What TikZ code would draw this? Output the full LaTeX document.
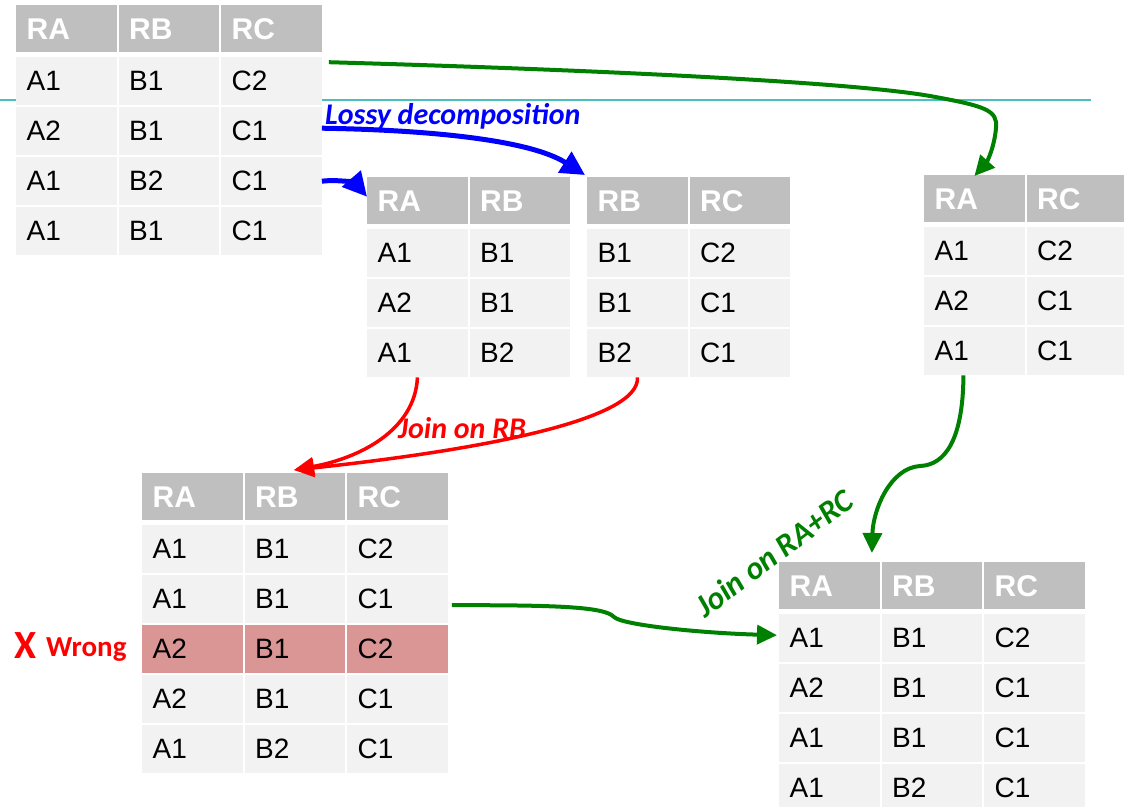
\documentclass[tikz,border=0pt]{standalone}
\usepackage{fontspec}
\setmainfont{Liberation Sans}
\newfontfamily\labfont{Carlito}
\usetikzlibrary{arrows.meta}
\definecolor{hdrgray}{RGB}{191,191,191}
\definecolor{rowgray}{RGB}{242,242,242}
\definecolor{wrongred}{RGB}{218,150,148}
\definecolor{tealrule}{RGB}{75,190,190}
\definecolor{dgreen}{RGB}{0,128,0}
\definecolor{pblue}{RGB}{0,0,255}
\definecolor{pred}{RGB}{255,0,0}
\tikzset{
  tcell/.style={anchor=north west, inner xsep=10.5pt, inner ysep=0pt, text width=79.5pt,
    align=left, minimum height=48pt, fill=rowgray, text=black,
    font=\fontsize{28}{28}\selectfont},
  thdr/.style={tcell, minimum height=47pt, fill=hdrgray, text=white,
    font=\bfseries\fontsize{30}{30}\selectfont},
  lab/.style={inner sep=0pt, font=\labfont\bfseries\itshape\fontsize{30}{30}\selectfont},
  bluearrow/.style={draw=pblue, line width=5pt, -{Triangle[length=24pt,width=24pt]}},
  redarrow/.style={draw=pred, line width=3.5pt, -{Triangle[length=20pt,width=18pt]}},
  greenarrow/.style={draw=dgreen, line width=4pt, -{Triangle[length=20pt,width=19pt]}},
  rule/.style={draw=tealrule, line width=1.8pt},
}
\newcommand\dbtable[6]{%
  \foreach \h [count=\c] in {#4}{%
    \node[thdr] (#1-h-\c) at ({#2+(\c-1)*102.5},{#3}) {\h};
  }%
  \foreach \row [count=\r] in {#5}{%
    \ifnum\r=#6\relax\def\cellcol{wrongred}\else\def\cellcol{rowgray}\fi
    \foreach \v [count=\c] in \row{%
      \node[tcell, fill=\cellcol] (#1-\r-\c) at ({#2+(\c-1)*102.5},{#3+52+(\r-1)*50}) {\v};
    }%
  }%
}
\begin{document}
\begin{tikzpicture}[x=1pt,y=-1pt]
\useasboundingbox (0,0) rectangle (1124,806);
\clip (0,0) rectangle (1124,806);
% tables
\dbtable{t1}{16}{5}{RA,RB,RC}{{A1,B1,C2},{A2,B1,C1},{A1,B2,C1},{A1,B1,C1}}{0}
\dbtable{t2}{367}{177}{RA,RB}{{A1,B1},{A2,B1},{A1,B2}}{0}
\dbtable{t3}{587}{177}{RB,RC}{{B1,C2},{B1,C1},{B2,C1}}{0}
\dbtable{t4}{924}{175}{RA,RC}{{A1,C2},{A2,C1},{A1,C1}}{0}
\dbtable{t5}{142}{473}{RA,RB,RC}{{A1,B1,C2},{A1,B1,C1},{A2,B1,C2},{A2,B1,C1},{A1,B2,C1}}{3}
\dbtable{t6}{779}{562}{RA,RB,RC}{{A1,B1,C2},{A2,B1,C1},{A1,B1,C1},{A1,B2,C1}}{0}
% teal rule (passes behind table t1)
\coordinate (ruleL) at (0,100);
\coordinate (ruleR) at (1091,100);
\draw[rule] (ruleL) -- (t1-1-1.west |- ruleL);
\draw[rule] (t1-1-3.east |- ruleL) -- (ruleR);
% labels
\node[lab, text=pblue, anchor=base west] (lossy) at (325,124) {Lossy decomposition};
\node[lab, text=pred, anchor=base west] (joinrb) at (398,438) {Join on RB};
\node[lab, text=dgreen, rotate=37, font=\labfont\bfseries\itshape\fontsize{32}{32}\selectfont] (joinrarc) at (774,553) {Join on RA+RC};
\node[inner sep=0pt, text=pred, anchor=base west, font=\labfont\bfseries\fontsize{40}{40}\selectfont] (xmark) at (14,658) {X};
\node[inner sep=0pt, text=pred, anchor=base west, font=\labfont\bfseries\fontsize{29}{29}\selectfont] (wrong) at (46,656) {Wrong};
% blue arrows
\draw[bluearrow] ([yshift=3pt]t1-2-3.east) .. controls (430,130) and (530,140) .. ([xshift=-2pt,yshift=2pt]t3-h-1.north west);
\draw[bluearrow] (t1-3-3.east) .. controls (340,179) and (356,184) .. ([yshift=4pt]t2-h-1.west);
% green arrow top
\draw[greenarrow] ([shift={(7pt,19pt)}]t1-1-3.east) .. controls (600,70) and (850,82) .. (930,96)
  .. controls (985,106) and (998,110) .. (996,128)
  .. controls (994,150) and (986,163) .. ([yshift=-1pt]t4-h-1.north);
% red arrows
\draw[redarrow] (t2-3-1.south) .. controls (415,430) and (360,458) .. ([shift={(-1pt,3pt)}]t5-h-2.north);
\draw[redarrow] (t3-3-1.south) .. controls (640,420) and (480,450) .. ([shift={(-1pt,3pt)}]t5-h-2.north);
% green arrow right
\draw[greenarrow] ([xshift=-11pt]t4-3-1.south) .. controls (963,440) and (945,465) .. (920,466)
  .. controls (890,468) and (873,510) .. ([shift={(-8pt,9pt)}]t6-h-1.north east);
% green arrow bottom
\draw[greenarrow] ([shift={(4pt,-6pt)}]t5-2-3.east) .. controls (560,605) and (605,607) .. (614,617)
  .. controls (622,625) and (700,633) .. ([shift={(-2pt,3pt)}]t6-1-1.west);
\end{tikzpicture}
\end{document}
